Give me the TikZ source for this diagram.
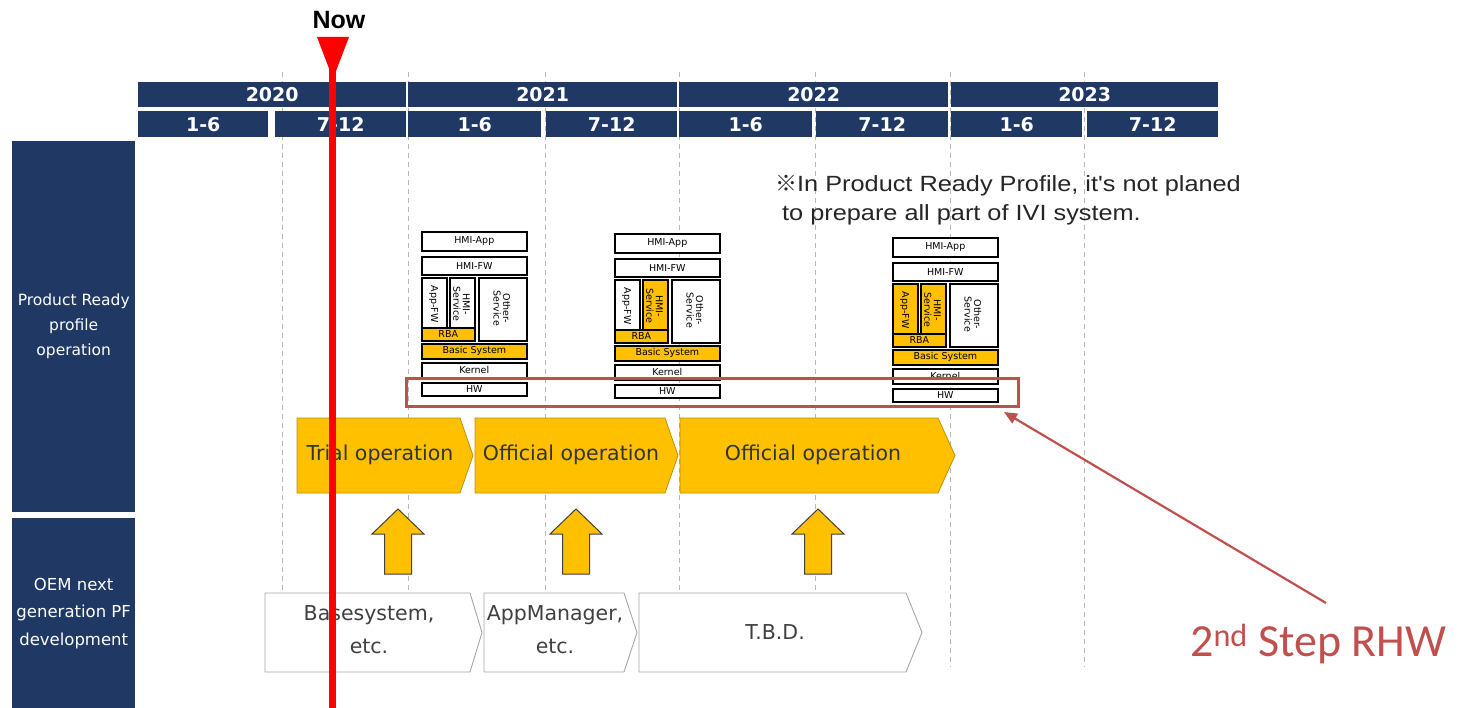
\documentclass[tikz,border=0pt]{standalone}
\usepackage{fontspec}
\setmainfont{DejaVu Sans}
\newfontfamily\arialf{Liberation Sans}
\newfontfamily\notef[FakeStretch=1.15]{Liberation Sans}
\newfontfamily\calib{Carlito}
\newfontfamily\cjkf{Noto Sans CJK JP}
\usetikzlibrary{calc,arrows.meta}
\definecolor{navy}{HTML}{1F3864}
\definecolor{gold}{HTML}{FFC000}
\definecolor{goldline}{HTML}{BF9000}
\definecolor{rhw}{HTML}{C0504D}
\definecolor{redline}{HTML}{FF0000}
\definecolor{chevgrey}{HTML}{A6A6A6}
\definecolor{txtgrey}{HTML}{404040}
\tikzset{
  hdr/.style={fill=navy, text=white, font=\bfseries\fontsize{19}{21}\selectfont, inner sep=0, anchor=north west},
  side/.style={fill=navy, text=white, inner sep=0, anchor=north west, align=center},
  blk/.style={draw=black, line width=1.6pt, fill=white, inner sep=0, anchor=north west, font=\fontsize{9.5}{10}\selectfont},
  stacktxt/.style={inner sep=0, align=center, font=\fontsize{9.5}{9.5}\selectfont},
  vgrid/.style={draw=black!28, dash pattern=on 5pt off 4pt, line width=0.8pt},
  yellowchev/.style={fill=gold, draw=goldline, line width=0.8pt},
  whitechev/.style={fill=white, draw=chevgrey, line width=0.9pt},
  yellowtxt/.style={text=black!80, font=\fontsize{20.5}{22}\selectfont, inner sep=0},
  whitetxt/.style={text=txtgrey, font=\fontsize{20.5}{33}\selectfont, inner sep=0, align=center},
  uparrsty/.style={fill=gold, draw=black!75, line width=1pt, line join=miter},
}
\newcommand{\mystack}[5]{%
  \node[blk, minimum width=105pt, minimum height=19pt] (#1app) at (#2,#3) {HMI-App};
  \node[blk, minimum width=105pt, minimum height=18pt] (#1fw) at (#2,#3+25) {HMI-FW};
  \node[blk, fill=#4, minimum width=25pt, minimum height=56pt] (#1appfw) at (#2,#3+46) {};
  \node[stacktxt, rotate=-90] (#1appfwt) at (#2+12.5,#3+73) {App-FW};
  \node[blk, fill=#5, minimum width=25pt, minimum height=56pt] (#1svc) at (#2+28,#3+46) {};
  \node[stacktxt, rotate=-90] (#1svct) at (#2+40.5,#3+73) {HMI-\\Service};
  \node[blk, fill=gold, minimum width=53pt, minimum height=13pt] (#1rba) at (#2,#3+96) {RBA};
  \node[blk, minimum width=48pt, minimum height=63pt] (#1oth) at (#2+57,#3+46) {};
  \node[stacktxt, rotate=-90] (#1otht) at (#2+81,#3+77.5) {Other-\\Service};
  \node[blk, fill=gold, minimum width=105pt, minimum height=15pt] (#1bas) at (#2,#3+112) {Basic System};
  \node[blk, minimum width=105pt, minimum height=15pt] (#1ker) at (#2,#3+131) {Kernel};
  \node[blk, minimum width=105pt, minimum height=13pt] (#1hw) at (#2,#3+151) {HW};
}
\newcommand{\mychev}[8]{% name, x1, y1, xshoulder, xtip, y2, style, text
  \draw[#7] (#2,#3) -- (#4,#3) -- (#5,{(#3+#6)/2}) -- (#4,#6) -- (#2,#6) -- cycle;
}
\newcommand{\myuparr}[1]{%
  \draw[uparrsty] (#1,509) -- (#1+26,534) -- (#1+13.5,534) -- (#1+13.5,574) -- (#1-13.5,574) -- (#1-13.5,534) -- (#1-26,534) -- cycle;
}
\begin{document}
\begin{tikzpicture}[x=1pt,y=-1pt]
\useasboundingbox (0,0) rectangle (1466,708);
\fill[white] (0,0) rectangle (1466,708);

% dashed grid
\foreach \gx in {282,408,545,679,815,950,1084} {\draw[vgrid] (\gx,72) -- (\gx,667);}

% header
\foreach \a/\b/\t/\n in {138/406/2020/yA,408/677/2021/yB,679/948/2022/yC,951/1218/2023/yD}{
  \node[hdr, minimum width={(\b-\a)*1pt}, minimum height=25pt] (\n) at (\a,82) {\t};
}
\foreach \a/\b/\t/\n in {138/268/1-6/hA,275/406/7-12/hB,408/541/1-6/hC,546/677/7-12/hD,679/812/1-6/hE,816/948/7-12/hF,951/1082/1-6/hG,1087/1218/7-12/hH}{
  \node[hdr, minimum width={(\b-\a)*1pt}, minimum height=26pt] (\n) at (\a,111) {\t};
}

% side labels
\node[side, minimum width=123pt, minimum height=371pt, font=\fontsize{15.5}{25}\selectfont] (prp) at (12,141) {Product Ready\\profile\\operation};
\node[side, minimum width=123pt, minimum height=190pt, font=\fontsize{16.5}{27.5}\selectfont] (oem) at (12,518) {OEM next\\generation PF\\development};

% note
\node[anchor=north west, align=left, inner sep=0, text=black!85, font=\notef\fontsize{22}{29.5}\selectfont] (note) at (775,175) {{\cjkf ※}In Product Ready Profile, it's not planed\\\hspace{7pt}to prepare all part of IVI system.};

% stacks
\mystack{sa}{421}{231}{white}{white}
\mystack{sb}{614}{233}{white}{gold}
\mystack{sc}{892}{237}{gold}{gold}

% red box
\node[draw=rhw, line width=3pt, minimum width=612pt, minimum height=28pt, inner sep=0] (redbox) at (712,392) {};

% yellow chevrons
\mychev{trial}{297}{418}{460}{473}{493}{yellowchev}{}
\node[yellowtxt] (trialt) at (380,455) {Trial operation};
\mychev{off1}{475}{418}{665}{678}{493}{yellowchev}{}
\node[yellowtxt] (off1t) at (571,455) {Official operation};
\mychev{off2}{680}{418}{938}{955}{493}{yellowchev}{}
\node[yellowtxt] (off2t) at (813,455) {Official operation};

% up arrows
\myuparr{398}
\myuparr{576}
\myuparr{818}

% white chevrons
\mychev{bs}{265}{593}{470}{482}{672}{whitechev}{}
\node[whitetxt] (bst) at (369,630) {Basesystem,\\etc.};
\mychev{am}{484}{593}{624}{637}{672}{whitechev}{}
\node[whitetxt] (amt) at (555,630) {AppManager,\\etc.};
\mychev{tbd}{639}{593}{906}{922}{672}{whitechev}{}
\node[whitetxt] (tbdt) at (775,632) {T.B.D.};

% 2nd step label and arrow
\node[anchor=base west, inner sep=0, text=rhw, font=\calib\fontsize{46}{48}\selectfont] (rhwlbl) at (1190,656) {2\textsuperscript{nd} Step RHW};
\coordinate (rhwfrom) at (1326,603);
\coordinate (rhwto) at (1004,412);
\draw[rhw, line width=2.2pt, -{Triangle[length=13pt,width=11pt]}] (rhwfrom) -- (rhwto);

% now marker
\node[inner sep=0, font=\arialf\bfseries\fontsize{25}{27}\selectfont] (now) at (339,20) {Now};
\fill[redline] (317,37) -- (349,37) -- (333,79) -- cycle;
\coordinate (nowtop) at (332.5,40);
\coordinate (nowbot) at (332.5,708);
\draw[redline, line width=7pt] (nowtop) -- (nowbot);
\end{tikzpicture}
\end{document}
